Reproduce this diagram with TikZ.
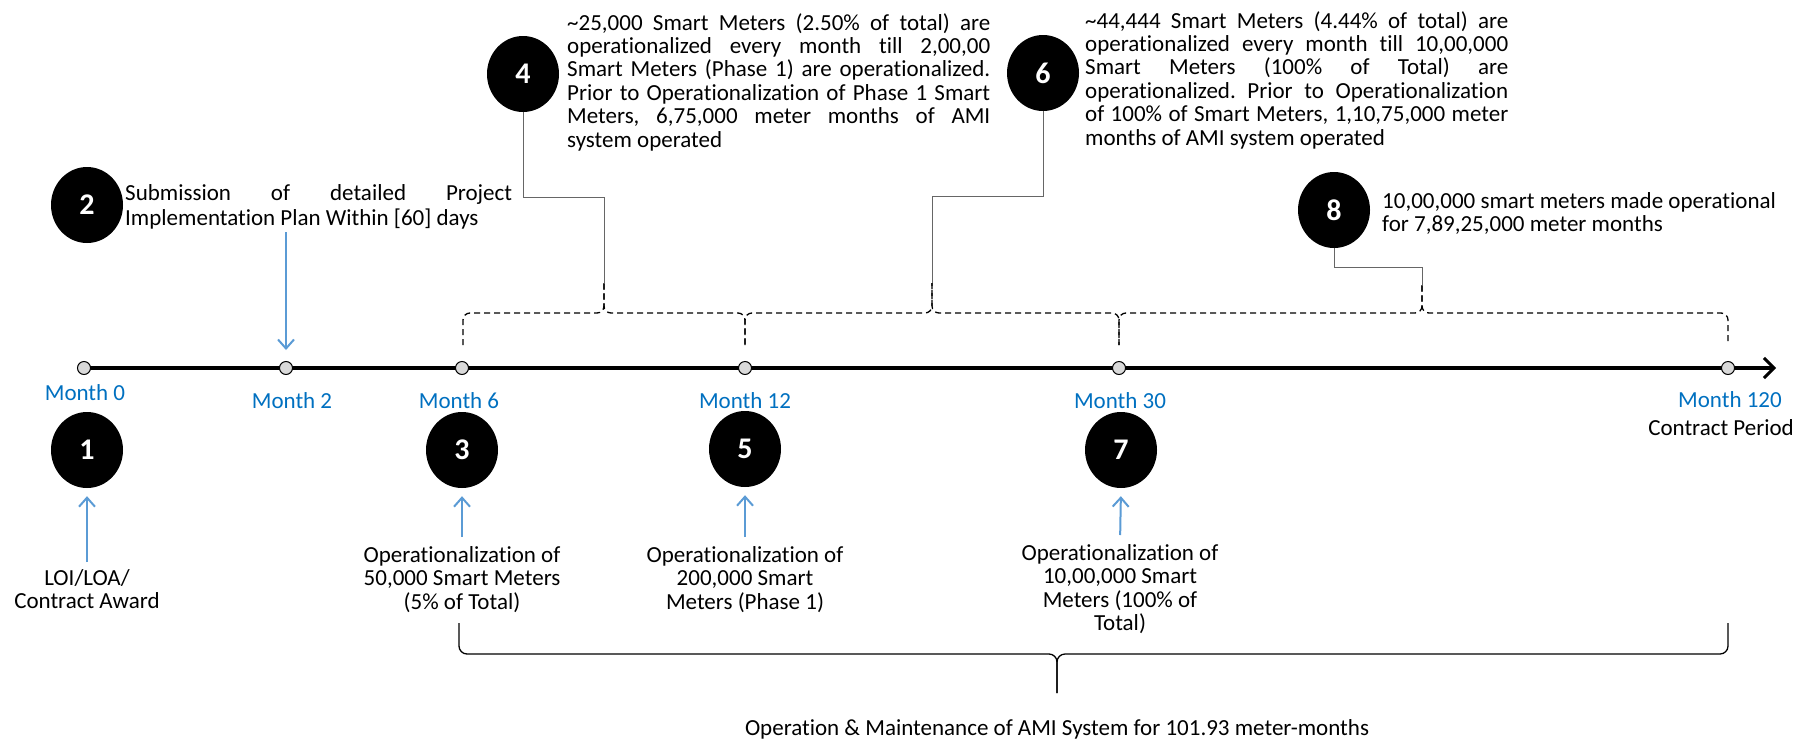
\documentclass[tikz,border=0pt]{standalone}
\usepackage{fontspec}
\setmainfont{Carlito}[Ligatures=CommonOff]
\usetikzlibrary{shapes.geometric,arrows.meta,backgrounds}
\definecolor{monthblue}{HTML}{0070C0}
\definecolor{arrowblue}{HTML}{5B9BD5}
\newcommand\bodyfont{\fontsize{23}{23.4}\selectfont}
\frenchspacing
\begin{document}
\begin{tikzpicture}[x=1pt,y=-1pt,
  num/.style={ellipse, fill=black, minimum width=72pt, minimum height=76pt, inner sep=0pt, text=white, font=\fontsize{30}{30}\selectfont\bfseries},
  mk/.style={circle, draw=black, line width=1pt, fill=black!15, minimum size=13pt, inner sep=0pt},
  mlabel/.style={text=monthblue, font=\bodyfont, inner sep=0pt, anchor=base},
  txt/.style={font=\bodyfont, inner sep=0pt, anchor=north},
  conn/.style={draw=black!60, line width=1pt},
  dbrace/.style={draw=black, dash pattern=on 6pt off 4pt, line width=1.3pt, rounded corners=7pt},
  sbrace/.style={draw=black, line width=1.3pt, rounded corners=8pt},
  barrow/.style={draw=arrowblue, line width=2pt, -{Straight Barb[length=9pt,width=16pt,line width=2pt]}},
  tline/.style={draw=black, line width=3.5pt, -{Straight Barb[length=10pt,width=20pt,line width=3pt]}}
]
\useasboundingbox (0,0) rectangle (1817,739);

% timeline markers
\node[mk] (m0) at (84,368) {};
\node[mk] (m2) at (286,368) {};
\node[mk] (m6) at (462,368) {};
\node[mk] (m12) at (745,368) {};
\node[mk] (m30) at (1119,368) {};
\node[mk] (m120) at (1728,368) {};
\coordinate (tlend) at (1776,368);
\begin{scope}[on background layer]
  \draw[tline] (m0.center) -- (tlend);
\end{scope}

% month labels
\node[mlabel] (lm0) at (85,400) {Month 0};
\node[mlabel] (lm2) at (292,408) {Month 2};
\node[mlabel] (lm6) at (459,408) {Month 6};
\node[mlabel] (lm12) at (745,408) {Month 12};
\node[mlabel] (lm30) at (1120,408) {Month 30};
\node[mlabel] (lm120) at (1730,407) {Month 120};
\node[font=\bodyfont, inner sep=0pt, anchor=base] (cp) at (1721,435) {Contract Period};

% numbered circles
\node[num] (c1) at (87,450) {1};
\node[num] (c2) at (87,205) {2};
\node[num] (c3) at (462,450) {3};
\node[num] (c4) at (523,74) {4};
\node[num] (c5) at (745,449) {5};
\node[num] (c6) at (1043,73) {6};
\node[num] (c7) at (1121,450) {7};
\node[num] (c8) at (1334,210) {8};

% texts below the timeline
\node[txt, align=center] (t1) at (87,569) {\strut LOI/LOA/\\Contract Award};
\node[txt, align=center] (t3) at (462,546) {\strut Operationalization of\\50,000 Smart Meters\\(5\% of Total)};
\node[txt, align=center] (t5) at (745,546) {\strut Operationalization of\\200,000 Smart\\Meters (Phase 1)};
\node[txt, align=center] (t7) at (1120,544) {\strut Operationalization of\\10,00,000 Smart\\Meters (100\% of\\Total)};

% texts above the timeline
\node[txt, anchor=north west, align=left] (t2) at (125,184) {\strut\makebox[387pt][s]{Submission of detailed Project}\\Implementation Plan Within [60] days\strut};
\node[txt, anchor=north west, align=left] (t4) at (567,13) {\strut\makebox[423pt][s]{\textasciitilde25,000 Smart Meters (2.50\% of total) are}\\
\makebox[423pt][s]{operationalized every month till 2,00,00}\\
\makebox[423pt][s]{Smart Meters (Phase 1) are operationalized.}\\
\makebox[423pt][s]{Prior to Operationalization of Phase 1 Smart}\\
\makebox[423pt][s]{Meters, 6,75,000 meter months of AMI}\\
system operated};
\node[txt, anchor=north west, align=left] (t6) at (1085,11) {\strut\makebox[423pt][s]{\textasciitilde44,444 Smart Meters (4.44\% of total) are}\\
\makebox[423pt][s]{operationalized every month till 10,00,000}\\
\makebox[423pt][s]{Smart Meters (100\% of Total) are}\\
\makebox[423pt][s]{operationalized. Prior to Operationalization}\\
\makebox[423pt][s]{of 100\% of Smart Meters, 1,10,75,000 meter}\\
months of AMI system operated};
\node[txt, anchor=north west, align=left] (t8) at (1382,192) {\strut 10,00,000 smart meters made operational\\for 7,89,25,000 meter months};

% bottom label
\node[font=\bodyfont, inner sep=0pt, anchor=base] (ot) at (1057,735) {Operation \& Maintenance of AMI System for 101.93 meter-months};

% blue arrows
\draw[barrow, shorten <=7pt, shorten >=8pt] (t1.north) -- (c1.south);
\draw[barrow, shorten <=9pt, shorten >=8pt] (t3.north) -- (c3.south);
\draw[barrow, shorten <=9pt, shorten >=8pt] (t5.north) -- (c5.south);
\draw[barrow, shorten <=9pt, shorten >=8pt] (t7.north) -- (c7.south);
\draw[barrow, shorten >=11pt] (t2.south -| m2) -- (m2);

% dashed braces above timeline
\coordinate (b0) at (463,345);
\coordinate (b1) at (745,345);
\coordinate (b2) at (1119,345);
\coordinate (b3) at (1728,345);
\coordinate (hA) at (604,313);
\coordinate (hB) at (932,313);
\coordinate (hC) at (1422,313);
\coordinate (tA) at (604,283);
\coordinate (tB) at (932,283);
\coordinate (tC) at (1422,285);
\draw[dbrace] (b0) |- (hA) -- (tA);
\draw[dbrace] (tA) -- (hA) -| (b1);
\draw[dbrace] (b1) |- (hB) -- (tB);
\draw[dbrace] (tB) -- (hB) -| (b2);
\draw[dbrace] (b2) |- (hC) -- (tC);
\draw[dbrace] (tC) -- (hC) -| (b3);

% connectors from callout circles
\coordinate (e4) at (604,197);
\coordinate (e6) at (932,196);
\coordinate (e8) at (1422,267);
\draw[conn] (c4.south) |- (e4) -- (tA);
\draw[conn] (c6.south) |- (e6) -- (tB);
\draw[conn] (c8.south) |- (e8) -- (tC);

% bottom brace
\coordinate (bl) at (459,623);
\coordinate (br) at (1728,623);
\coordinate (bh) at (1057,654);
\coordinate (bt) at (1057,693);
\draw[sbrace] (bl) |- (bh) -- (bt);
\draw[sbrace] (bt) -- (bh) -| (br);
\end{tikzpicture}
\end{document}
